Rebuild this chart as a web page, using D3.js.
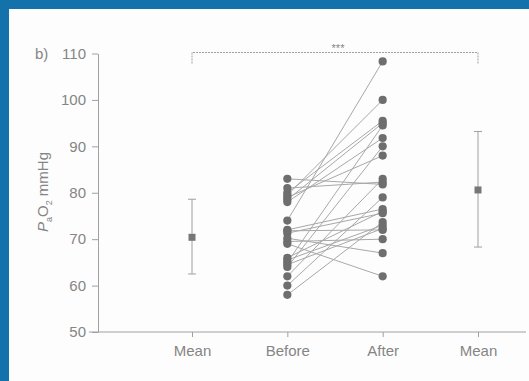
<!DOCTYPE html>
<html>
<head>
<meta charset="utf-8">
<script src="https://cdn.jsdelivr.net/npm/d3@7"></script>
<style>
  html, body { margin: 0; padding: 0; background: #1472aa; }
  svg { display: block; }
  text { font-family: "Liberation Sans", Arial, sans-serif; fill: #858585; }
</style>
</head>
<body>
<script>
// CONSTANTS
const width = 529, height = 381;

// DATA
const categories = ["Mean1", "Before", "After", "Mean2"];
const categoryLabels = ["Mean", "Before", "After", "Mean"];
const yTicks = [50, 60, 70, 80, 90, 100, 110];

// paired PaO2 readings, one entry per patient
const beforeValues = [74, 79.5, 80, 78.5, 65, 78, 64, 79, 62, 81, 83, 60, 72, 66, 71.3, 58, 71.8, 65.5, 64.5, 69.5, 70.2, 69];
const afterValues = [108.3, 100, 95.5, 95, 94.5, 91.8, 90, 88, 83, 82.3, 81.8, 79, 76.5, 76, 75.6, 73.7, 72, 73, 72.3, 70, 67, 62];

// mean with error bar (low, high)
const meanKeys = ["Mean1", "Mean2"];
const meanValues = [70.4, 80.6];
const meanLow = [62.5, 68.3];
const meanHigh = [78.6, 93.2];

const svg = d3.select("body").append("svg")
  .attr("width", width)
  .attr("height", height);

// white page area (blue strip left and top)
svg.append("rect")
  .attr("x", 9).attr("y", 9)
  .attr("width", width - 9).attr("height", height - 9)
  .attr("fill", "#fdfdfd");

// SCALES
const x = d3.scalePoint()
  .domain(categories)
  .range([192, 478]);

const y = d3.scaleLinear()
  .domain([50, 110])
  .range([332, 53.5]);

const axisColor = "#a0a0a0";

// Y AXIS
const yAxis = svg.append("g")
  .attr("transform", "translate(98,0)")
  .call(d3.axisLeft(y).tickValues(yTicks).tickSize(6).tickPadding(6).tickSizeOuter(0));
yAxis.select(".domain").attr("stroke", axisColor);
yAxis.selectAll(".tick line").attr("stroke", axisColor);
yAxis.selectAll(".tick text")
  .attr("fill", "#858585")
  .style("font-size", "15px");

// X AXIS
const xAxis = svg.append("g")
  .attr("transform", `translate(0,${y(50)})`)
  .call(d3.axisBottom(x).tickSize(5).tickPadding(8).tickFormat((d, i) => categoryLabels[i]));
xAxis.select(".domain").remove();
xAxis.append("line")
  .attr("x1", 89).attr("x2", 526)
  .attr("stroke", axisColor);
xAxis.selectAll(".tick line").attr("stroke", axisColor);
xAxis.selectAll(".tick text")
  .attr("fill", "#858585")
  .style("font-size", "15px");

// panel label
svg.append("text")
  .attr("x", 35).attr("y", 58.5)
  .style("font-size", "15px")
  .text("b)");

// y axis title
const yTitle = svg.append("text")
  .attr("transform", "translate(48,192) rotate(-90)")
  .attr("text-anchor", "middle")
  .style("font-size", "15px");
yTitle.append("tspan").style("font-style", "italic").text("P");
yTitle.append("tspan").attr("dy", 4).style("font-size", "9px").text("a");
yTitle.append("tspan").attr("dy", -4).text("O");
yTitle.append("tspan").attr("dy", 4).style("font-size", "9px").text("2");
yTitle.append("tspan").attr("dy", -4).text(" mmHg");

// significance bracket
const bx1 = x("Mean1"), bx2 = x("Mean2"), by = 52.5;
svg.append("path")
  .attr("d", `M${bx1},${by + 11}V${by}H${bx2}V${by + 11}`)
  .attr("fill", "none")
  .attr("stroke", axisColor)
  .attr("stroke-dasharray", "2,1");
svg.append("text")
  .attr("x", (bx1 + bx2) / 2 + 3).attr("y", by - 1)
  .attr("text-anchor", "middle")
  .style("font-size", "11px")
  .text("***");

// paired lines
const pairs = beforeValues.map((b, i) => ({ before: b, after: afterValues[i] }));
svg.selectAll(".pair")
  .data(pairs)
  .join("line")
  .attr("class", "pair")
  .attr("x1", x("Before"))
  .attr("y1", d => y(d.before))
  .attr("x2", x("After"))
  .attr("y2", d => y(d.after))
  .attr("stroke", "#a8a8a8")
  .attr("stroke-width", 1);

// dots
const dotColor = "#6e6e6e";
svg.selectAll(".dot-before")
  .data(beforeValues)
  .join("circle")
  .attr("class", "dot-before")
  .attr("cx", x("Before"))
  .attr("cy", d => y(d))
  .attr("r", 4.1)
  .attr("fill", dotColor);

svg.selectAll(".dot-after")
  .data(afterValues)
  .join("circle")
  .attr("class", "dot-after")
  .attr("cx", x("After"))
  .attr("cy", d => y(d))
  .attr("r", 4.1)
  .attr("fill", dotColor);

// mean +/- error bars
const means = meanKeys.map((k, i) => ({ key: k, mean: meanValues[i], lo: meanLow[i], hi: meanHigh[i] }));
const mg = svg.selectAll(".mean")
  .data(means)
  .join("g")
  .attr("class", "mean")
  .attr("transform", d => `translate(${x(d.key)},0)`);

mg.append("line")
  .attr("y1", d => y(d.lo)).attr("y2", d => y(d.hi))
  .attr("stroke", axisColor);
mg.append("line")
  .attr("x1", -4).attr("x2", 4)
  .attr("y1", d => y(d.hi)).attr("y2", d => y(d.hi))
  .attr("stroke", axisColor);
mg.append("line")
  .attr("x1", -4).attr("x2", 4)
  .attr("y1", d => y(d.lo)).attr("y2", d => y(d.lo))
  .attr("stroke", axisColor);
mg.append("rect")
  .attr("x", -3.5).attr("width", 7)
  .attr("y", d => y(d.mean) - 3.5).attr("height", 7)
  .attr("fill", "#777");
</script>
</body>
</html>
